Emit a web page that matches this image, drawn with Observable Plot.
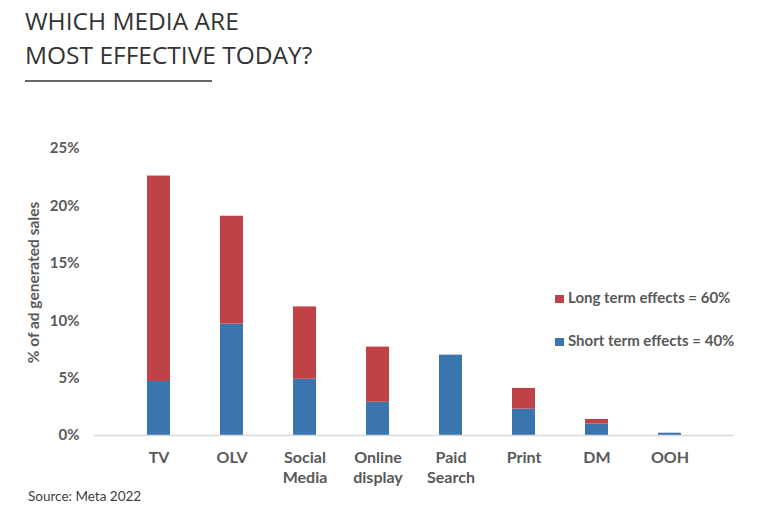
<!DOCTYPE html>
<html>
<head>
<meta charset="utf-8">
<script src="https://cdn.jsdelivr.net/npm/d3@7"></script>
<script src="https://cdn.jsdelivr.net/npm/@observablehq/plot@0.6"></script>
<style>
  html, body { margin: 0; padding: 0; background: #fff; }
  #wrap { position: relative; width: 782px; height: 523px; overflow: hidden; font-family: Lato, sans-serif; }
  #title { position: absolute; left: 25px; top: 4px; font-family: "Open Sans", sans-serif; font-size: 24.5px; line-height: 34px; color: #333; font-weight: 400; }
  #rule { position: absolute; left: 25px; top: 80px; width: 187px; height: 2px; background: #666; }
  #source { position: absolute; left: 28px; top: 488px; font-size: 13.5px; color: #404040; }
  .leg { position: absolute; left: 555px; font-size: 15px; font-weight: 700; color: #595959; white-space: nowrap; }
  .leg span { display: inline-block; width: 9px; height: 8px; margin-right: 4px; vertical-align: 0px; }
  #chart { position: absolute; left: 0; top: 0; }
</style>
</head>
<body>
<div id="wrap">
  <div id="chart"></div>
  <div id="title">WHICH MEDIA ARE<br>MOST EFFECTIVE TODAY?</div>
  <div id="rule"></div>
  <div class="leg" style="top:288px"><span style="background:#bf4246"></span>Long term effects = 60%</div>
  <div class="leg" style="top:331px"><span style="background:#3a75ae"></span>Short term effects = 40%</div>
  <div id="source">Source: Meta 2022</div>
</div>
<script>
const media = ["TV", "OLV", "Social\nMedia", "Online\ndisplay", "Paid\nSearch", "Print", "DM", "OOH"];
const shortTerm = [4.7, 9.7, 4.9, 2.9, 7.0, 2.3, 1.0, 0.2];
const longTerm  = [17.9, 9.4, 6.3, 4.8, 0.0, 1.8, 0.4, 0.0];
const series = ["Short term effects = 40%", "Long term effects = 60%"];
const colors = ["#3a75ae", "#bf4246"];
const yTicks = [0, 5, 10, 15, 20, 25];
const yLabel = "% of ad generated sales";

const data = [];
media.forEach((m, i) => {
  data.push({media: m, term: series[0], value: shortTerm[i]});
  data.push({media: m, term: series[1], value: longTerm[i]});
});

const chart = Plot.plot({
  width: 782,
  height: 523,
  marginLeft: 94,
  marginRight: 48,
  marginTop: 148,
  marginBottom: 88,
  style: {fontFamily: "Lato, sans-serif", background: "transparent"},
  x: {domain: media, padding: 0.6875, label: null},
  y: {domain: [0, 25], label: null},
  color: {domain: series, range: colors},
  marks: [
    Plot.barY(data, {x: "media", y: "value", fill: "term", order: series}),
    Plot.ruleY([0], {stroke: "#d9d9d9", strokeWidth: 1.5}),
    Plot.axisY({ticks: yTicks, tickSize: 0, tickPadding: 15, tickFormat: d => d + "%", fontSize: 15, fontWeight: 700, fill: "#595959", label: null}),
    Plot.axisX({tickSize: 0, tickPadding: 13, fontSize: 16, fontWeight: 700, fill: "#595959", lineHeight: 1.25, label: null}),
    Plot.text([yLabel], {frameAnchor: "top-left", dx: -60, dy: 134, rotate: -90, textAnchor: "middle", lineAnchor: "middle", fontSize: 15.5, fontWeight: 700, fill: "#595959"})
  ]
});
document.getElementById("chart").appendChild(chart);
</script>
</body>
</html>
